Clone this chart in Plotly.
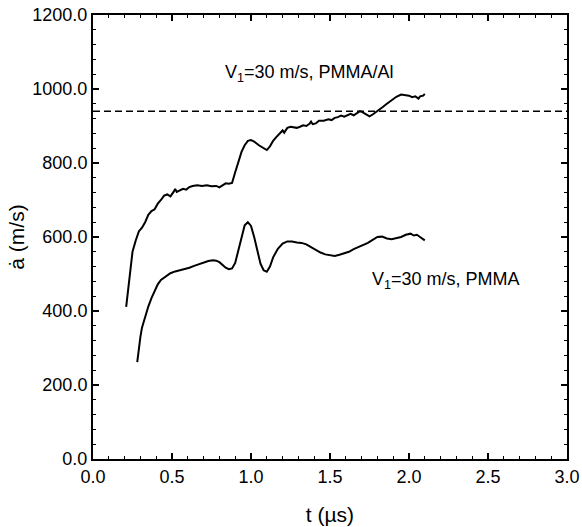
import plotly.graph_objects as go

# PMMA/Al curve
t_al = [0.21,0.22,0.23,0.24,0.25,0.27,0.29,0.31,0.33,0.35,0.37,0.39,0.41,0.43,0.45,0.47,0.49,0.51,0.52,0.53,
        0.55,0.57,0.59,0.61,0.63,0.66,0.69,0.72,0.75,0.78,0.80,0.82,0.84,0.86,0.88,0.90,0.92,0.94,0.96,0.98,
        1.00,1.02,1.05,1.08,1.10,1.12,1.14,1.16,1.18,1.20,1.21,1.23,1.25,1.27,1.29,1.31,1.33,1.35,1.37,1.38,
        1.39,1.41,1.43,1.46,1.49,1.51,1.53,1.55,1.57,1.59,1.61,1.63,1.65,1.67,1.69,1.71,1.73,1.75,1.77,1.79,
        1.81,1.83,1.86,1.89,1.92,1.95,1.98,2.00,2.02,2.04,2.06,2.07,2.09,2.10]
a_al = [411,450,490,530,560,590,615,625,640,660,670,675,690,700,712,715,710,722,730,722,
        725,730,728,735,738,740,738,740,737,738,734,740,745,744,746,775,805,830,848,860,
        862,858,848,840,835,845,860,870,878,888,882,895,898,896,895,898,902,900,906,912,
        905,907,914,914,918,916,922,924,928,925,930,933,929,934,940,936,930,926,931,937,
        942,950,960,970,979,985,984,982,978,980,974,980,982,987]

# PMMA curve
t_p = [0.28,0.29,0.30,0.31,0.33,0.35,0.37,0.39,0.41,0.43,0.46,0.49,0.52,0.55,0.58,0.61,0.64,0.67,0.70,0.73,
       0.76,0.78,0.80,0.82,0.84,0.86,0.88,0.90,0.92,0.94,0.96,0.98,1.00,1.02,1.04,1.06,1.08,1.10,1.12,1.14,
       1.17,1.20,1.23,1.26,1.29,1.32,1.35,1.38,1.41,1.44,1.47,1.50,1.53,1.56,1.59,1.62,1.65,1.68,1.71,1.74,
       1.77,1.80,1.83,1.86,1.89,1.92,1.95,1.98,2.01,2.03,2.05,2.07,2.10]
a_p = [262,300,330,355,385,412,435,455,472,484,494,502,507,510,512,517,522,527,532,535,
       537,536,532,525,517,513,515,530,565,605,632,640,630,600,560,528,510,506,520,545,
       568,582,588,588,585,584,580,572,564,558,553,550,549,552,556,560,567,572,578,584,
       592,600,601,596,594,596,600,606,609,604,606,600,591]

# reference level
t_ref = [0.0, 3.0]
a_ref = [940, 940]

fig = go.Figure()
fig.add_trace(go.Scatter(x=t_ref, y=a_ref, mode="lines",
                         line=dict(color="black", width=1.5, dash="7px,4px"), showlegend=False))
fig.add_trace(go.Scatter(x=t_al, y=a_al, mode="lines",
                         line=dict(color="black", width=2), showlegend=False))
fig.add_trace(go.Scatter(x=t_p, y=a_p, mode="lines",
                         line=dict(color="black", width=2), showlegend=False))

font = dict(family="Liberation Sans, Arial, sans-serif", color="black")

fig.add_annotation(x=1.373, y=1042, text="V<sub>1</sub>=30 m/s, PMMA/Al", showarrow=False,
                   font=dict(size=18, **font))
fig.add_annotation(x=2.235, y=483, text="V<sub>1</sub>=30 m/s, PMMA", showarrow=False,
                   font=dict(size=18, **font))

axis_common = dict(showgrid=False, zeroline=False, showline=True, linecolor="black", linewidth=2,
                   mirror="allticks", ticks="inside", ticklen=6, tickwidth=1.5, tickcolor="black",
                   tickfont=dict(size=18, **font), tickformat=".1f", automargin=False)

fig.update_xaxes(range=[0, 3.0], dtick=0.5, tick0=0,
                 minor=dict(dtick=0.1, ticks="inside", ticklen=3, tickcolor="black", tickwidth=1),
                 title=dict(text="t (µs)", font=dict(size=21, **font), standoff=22),
                 **axis_common)
fig.update_yaxes(range=[0, 1200], dtick=200, tick0=0,
                 minor=dict(dtick=40, ticks="inside", ticklen=3, tickcolor="black", tickwidth=1),
                 title=dict(text="ȧ (m/s)", font=dict(size=21, **font), standoff=2),
                 **axis_common)

fig.update_layout(width=582, height=527, margin=dict(l=93, r=15, t=15, b=68),
                  plot_bgcolor="white", paper_bgcolor="white", showlegend=False)

fig.write_html("out.html")
